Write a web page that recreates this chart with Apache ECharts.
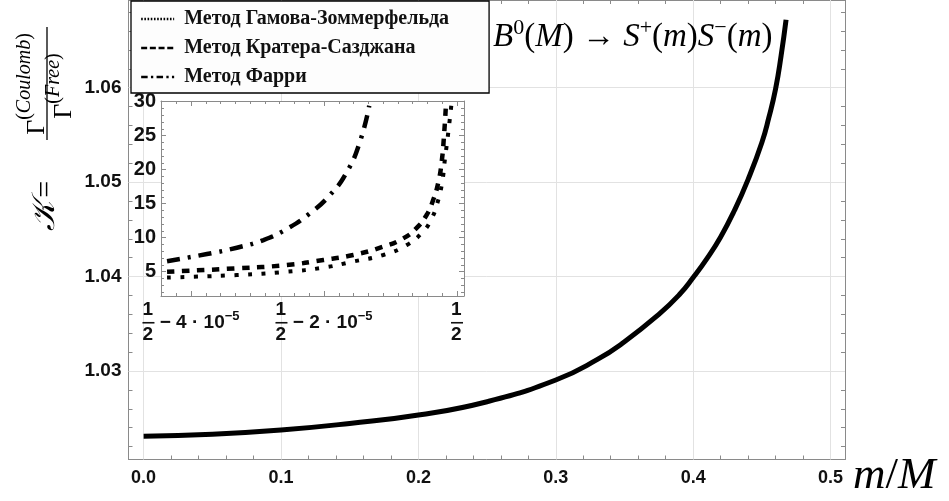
<!DOCTYPE html>
<html>
<head>
<meta charset="utf-8">
<script src="https://cdn.jsdelivr.net/npm/echarts@6/dist/echarts.min.js"></script>
<style>
html, body { margin: 0; padding: 0; background: #fff; }
#chart { width: 949px; height: 501px; }
</style>
</head>
<body>
<div id="chart"></div>
<script>
// основной график: K(m/M), все три метода совпадают
var mainM = [0, 0.05, 0.1, 0.15, 0.2, 0.25, 0.3, 0.33, 0.35, 0.375, 0.39, 0.4, 0.41, 0.42, 0.43, 0.44, 0.45, 0.455, 0.46, 0.464, 0.4676];
var mainK = [1.0231, 1.0233, 1.02375, 1.02445, 1.02534, 1.02675, 1.02905, 1.0312, 1.0331, 1.0360, 1.0381, 1.0399, 1.0419, 1.0442, 1.0470, 1.0503, 1.0542, 1.0568, 1.0599, 1.0634, 1.0672];

// врезка: m/M = 1/2 + d*1e-5
var gzD = [-4.36, -3.31, -2.56, -2.01, -1.56, -1.11, -0.76, -0.51, -0.38, -0.305, -0.23, -0.18, -0.13, -0.08];
var gzK = [4.15, 4.51, 5.0, 5.6, 6.5, 7.46, 8.9, 10.9, 12.85, 14.8, 17.75, 21.7, 25.6, 30.0];
var krD = [-4.36, -3.31, -2.56, -2.01, -1.56, -1.11, -0.81, -0.61, -0.46, -0.36, -0.28, -0.23, -0.195, -0.165];
var krK = [5.0, 5.5, 5.98, 6.72, 7.46, 8.68, 9.9, 11.4, 13.3, 15.5, 18.2, 21.2, 25.1, 29.8];
var frD = [-4.36, -3.76, -3.31, -2.91, -2.56, -2.21, -1.91, -1.66, -1.46, -1.32];
var frK = [6.55, 7.6, 8.53, 9.66, 11.28, 13.6, 16.28, 19.6, 24.1, 29.4];

var names = ['Метод Гамова-Зоммерфельда', 'Метод Кратера-Сазджана', 'Метод Фарри'];

var mainXTicks = [0, 0.1, 0.2, 0.3, 0.4, 0.5];
var mainYTicks = [1.03, 1.04, 1.05, 1.06];
var insetXTicks = [-4, -2, 0];
var insetYTicks = [5, 10, 15, 20, 25, 30];

function steps(a, b, s) {
  var out = [];
  for (var i = 0; a + i * s <= b + 1e-9; i++) out.push(+(a + i * s).toFixed(6));
  return out;
}
function zip(a, b) {
  return a.map(function (v, i) { return [v, b[i]]; });
}

var frameColor = '#8a8a8a';
var sans = 'Liberation Sans';
var serif = 'Liberation Serif';

function frameAxis(gi, pos, min, max, ticks, len, label, line) {
  return {
    type: 'value', gridIndex: gi, position: pos, min: min, max: max,
    axisLine: { show: !!line, onZero: false, lineStyle: { color: frameColor, width: 1 } },
    axisTick: { show: true, inside: true, length: len, customValues: ticks, lineStyle: { color: frameColor, width: 1 } },
    axisLabel: label ? label : { show: false },
    splitLine: { show: false },
    z: gi ? 4 : 0
  };
}

var mx = [-0.011, 0.5105], my = [1.02063, 1.06929];
var ix = [-4.451, 0.105], iy = [1.43, 30.1];

function tickLabel(ticks, fmt, size, margin) {
  return { show: true, customValues: ticks, formatter: fmt, margin: margin, color: '#111',
    fontFamily: sans, fontWeight: 'bold', fontSize: size, hideOverlap: false };
}

var mainXLabel = tickLabel(mainXTicks, function (v) { return v.toFixed(1); }, 18, 10);
var mainYLabel = tickLabel(mainYTicks, function (v) { return v.toFixed(2); }, 19, 7);
var insetYLabel = tickLabel(insetYTicks, function (v) { return String(v); }, 20, 5);

var fr = { fontFamily: sans, fontWeight: 'bold', fontSize: 19, lineHeight: 12.5, align: 'left', color: '#111' };
var insetXLabel = {
  show: true, customValues: insetXTicks, margin: 8, hideOverlap: false,
  formatter: function (v) {
    if (v === 0) return '{n|1}\n{bar| }\n{n|2}';
    return '{n|1}\n{bar| }{t| − ' + (-v) + ' · 10}{e|−5}\n{n|2}';
  },
  rich: {
    n: Object.assign({}, fr, { width: 12 }),
    bar: { align: 'left', width: 12, height: 1.6, lineHeight: 12.5, backgroundColor: '#111' },
    t: Object.assign({}, fr),
    e: Object.assign({}, fr, { fontSize: 13, padding: [0, 0, 13, 0] })
  }
};

var dashes = [[4, 9.5], [7.5, 7.5], [13, 8, 3, 8]];
var legendDashes = [[1.6, 1.6], [6, 2.7], [6.5, 3.3, 2.3, 3.3]];
var insetData = [zip(gzD, gzK), zip(krD, krK), zip(frD, frK)];

var series = [{
  name: 'K', type: 'line', xAxisIndex: 0, yAxisIndex: 0, data: zip(mainM, mainK),
  symbol: 'none', smooth: 0.5,
  lineStyle: { color: '#000', width: 5 }, z: 2,
  markLine: {
    silent: true, symbol: ['none', 'none'], z: 1, label: { show: false },
    lineStyle: { color: '#e2e2e2', width: 1, type: 'solid' },
    data: mainXTicks.map(function (v) { return { xAxis: v }; })
      .concat(mainYTicks.map(function (v) { return { yAxis: v }; }))
  }
}];
names.forEach(function (n, i) {
  series.push({
    name: n, type: 'line', xAxisIndex: 4, yAxisIndex: 4, data: insetData[i],
    symbol: 'none', smooth: 0.5, z: 5, clip: true,
    lineStyle: { color: '#000', width: i === 0 ? 4 : 4.5, type: dashes[i], cap: 'butt' }
  });
});

var option = {
  animation: false,
  backgroundColor: '#fff',
  grid: [
    { left: 128.5, right: 104, top: 0, bottom: 41.5 },
    { left: 161, right: 485, top: 101, bottom: 205, show: true, backgroundColor: '#fff', borderWidth: 0, z: 3 }
  ],
  xAxis: [
    frameAxis(0, 'bottom', mx[0], mx[1], mainXTicks, 7, mainXLabel, true),
    frameAxis(0, 'bottom', mx[0], mx[1], steps(0, 0.5, 0.02), 4, null, false),
    frameAxis(0, 'top', mx[0], mx[1], mainXTicks, 7, null, true),
    frameAxis(0, 'top', mx[0], mx[1], steps(0, 0.5, 0.02), 4, null, false),
    frameAxis(1, 'bottom', ix[0], ix[1], insetXTicks, 5, insetXLabel, true),
    frameAxis(1, 'bottom', ix[0], ix[1], steps(-4 - 4 / 9, 0.1, 2 / 9), 3, null, false),
    frameAxis(1, 'top', ix[0], ix[1], insetXTicks, 5, null, true),
    frameAxis(1, 'top', ix[0], ix[1], steps(-4 - 4 / 9, 0.1, 2 / 9), 3, null, false)
  ],
  yAxis: [
    frameAxis(0, 'left', my[0], my[1], mainYTicks, 7, mainYLabel, true),
    frameAxis(0, 'left', my[0], my[1], steps(1.022, 1.068, 0.002), 4, null, false),
    frameAxis(0, 'right', my[0], my[1], mainYTicks, 7, null, true),
    frameAxis(0, 'right', my[0], my[1], steps(1.022, 1.068, 0.002), 4, null, false),
    frameAxis(1, 'left', iy[0], iy[1], insetYTicks, 5, insetYLabel, true),
    frameAxis(1, 'left', iy[0], iy[1], steps(2, 30, 1), 3, null, false),
    frameAxis(1, 'right', iy[0], iy[1], insetYTicks, 5, null, true),
    frameAxis(1, 'right', iy[0], iy[1], steps(2, 30, 1), 3, null, false)
  ],
  legend: {
    orient: 'vertical', left: 131, top: 1, padding: [8, 40, 6, 9],
    itemGap: 9, itemWidth: 33, itemHeight: 14, selectedMode: false,
    backgroundColor: '#fdfdfd', borderColor: '#000', borderWidth: 1.3, borderRadius: 0,
    textStyle: { fontFamily: serif, fontWeight: 'bold', fontSize: 20, color: '#111', lineHeight: 20 },
    itemStyle: { opacity: 0 },
    formatter: function (n) { return ' ' + n; },
    data: names.map(function (n, i) {
      return { name: n, lineStyle: { width: 2.3, type: legendDashes[i], color: '#000' }, itemStyle: { opacity: 0 } };
    })
  },
  graphic: [
    { type: 'text', left: 493, top: 17, z: 10, style: {
      text: '{i|B}{s|0}{r|(}{i|M}{r|) → }{i|S}{s|+}{r|(}{i|m}{r|)}{i|S}{s|−}{r|(}{i|m}{r|)}',
      fill: '#000',
      rich: {
        i: { fontFamily: serif, fontStyle: 'italic', fontSize: 33, lineHeight: 38 },
        r: { fontFamily: serif, fontSize: 33, lineHeight: 38 },
        s: { fontFamily: serif, fontSize: 22, lineHeight: 38, padding: [0, 0, 18, 0] }
      }
    } },
    { type: 'text', left: 853, top: 454, z: 10, style: {
      text: '{i|m}{r|/}{i|M}', fill: '#000',
      rich: {
        i: { fontFamily: serif, fontStyle: 'italic', fontSize: 45, lineHeight: 46 },
        r: { fontFamily: serif, fontSize: 45, lineHeight: 46 }
      }
    } },
    { type: 'text', x: 46, y: 231, rotation: Math.PI / 2, z: 10, style: {
      text: '{k|𝒦} {r|=}', align: 'left', verticalAlign: 'middle', textAlign: 'left', textVerticalAlign: 'middle', fill: '#000',
      rich: {
        k: { fontFamily: serif, fontStyle: 'italic', fontSize: 32, lineHeight: 36 },
        r: { fontFamily: serif, fontSize: 30, lineHeight: 36 }
      }
    } },
    { type: 'line', z: 10, shape: { x1: 47, y1: 27, x2: 47, y2: 140 }, style: { stroke: '#000', lineWidth: 1.3 } },
    { type: 'text', x: 37, y: 84, rotation: Math.PI / 2, z: 10, style: {
      text: '{g|Γ}{p|(}{s|Coulomb}{p|)}', align: 'center', verticalAlign: 'middle', textAlign: 'center', textVerticalAlign: 'middle', fill: '#000',
      rich: {
        g: { fontFamily: serif, fontSize: 26, lineHeight: 44 },
        p: { fontFamily: serif, fontSize: 20, lineHeight: 44, padding: [0, 0, 24, 0] },
        s: { fontFamily: serif, fontStyle: 'italic', fontSize: 20, lineHeight: 44, padding: [0, 0, 24, 0] }
      }
    } },
    { type: 'text', x: 64, y: 86, rotation: Math.PI / 2, z: 10, style: {
      text: '{g|Γ}{p|(}{s|Free}{p|)}', align: 'center', verticalAlign: 'middle', textAlign: 'center', textVerticalAlign: 'middle', fill: '#000',
      rich: {
        g: { fontFamily: serif, fontSize: 26, lineHeight: 44 },
        p: { fontFamily: serif, fontSize: 20, lineHeight: 44, padding: [0, 0, 20, 0] },
        s: { fontFamily: serif, fontStyle: 'italic', fontSize: 20, lineHeight: 44, padding: [0, 0, 20, 0] }
      }
    } }
  ],
  series: series
};

var chart = echarts.init(document.getElementById('chart'));
chart.setOption(option);
</script>
</body>
</html>
